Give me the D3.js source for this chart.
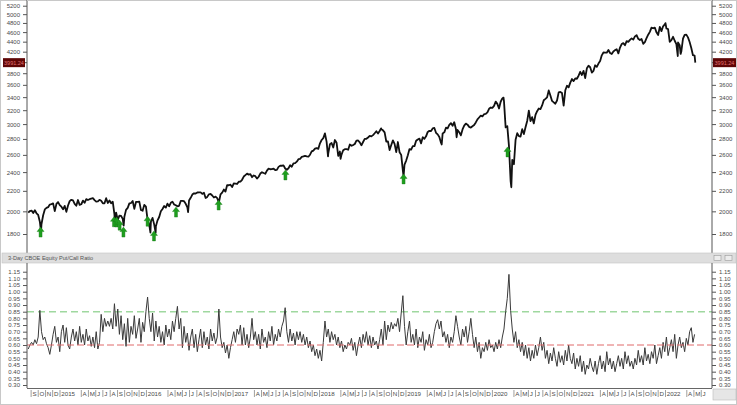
<!DOCTYPE html>
<html><head><meta charset="utf-8">
<script src="https://cdn.jsdelivr.net/npm/d3@7"></script>
<style>body{margin:0;background:#fff}svg{display:block;font-family:"Liberation Sans",Arial,sans-serif}</style>
</head><body><svg id="c" width="737" height="405"></svg>
<script>
// ---------- DATA ----------
const priceStart = "2014-08-22"; // weekly closes, one per week
const priceWeekly = [
1988,2003,2007,1985,2010,1982,1967,1906,1886,1964,2018,2032,2039,2064,2068,2075,2002,2070,2088,
2058,2044,2019,2051,1995,2055,2097,2110,2104,2071,2053,2108,2061,2067,2102,2081,2117,2108,2116,2122,2126,2107,2092,2094,2110,2101,2076,2076,2126,2079,2104,2077,2091,1971,1989,1921,1961,1958,1931,1951,2014,2033,2075,2079,2099,2023,2089,2090,2092,2012,2005,2061,
2044,1922,1880,1907,1940,1880,1865,1918,1948,2000,2022,2050,2035,2073,2048,2081,2092,2065,2057,2047,2052,2099,2099,2096,2071,2037,2103,2130,2162,2175,2173,2183,2184,2184,2169,2180,2128,2139,2165,2168,2153,2133,2141,2126,2085,2164,2182,2213,2192,2260,2258,2264,2239,
2277,2275,2271,2295,2297,2316,2351,2367,2383,2372,2378,2344,2363,2355,2329,2349,2384,2399,2390,2382,2416,2439,2432,2433,2438,2423,2425,2459,2472,2472,2476,2441,2426,2443,2477,2461,2500,2502,2519,2549,2553,2575,2581,2588,2582,2578,2602,2642,2652,2676,2684,2674,
2743,2786,2810,2873,2762,2620,2732,2747,2691,2786,2752,2588,2641,2604,2656,2670,2670,2663,2728,2713,2721,2735,2779,2780,2755,2718,2760,2801,2802,2819,2840,2833,2850,2875,2902,2872,2905,2930,2914,2886,2767,2768,2659,2723,2781,2736,2633,2760,2633,2600,2417,2486,
2532,2596,2671,2665,2707,2708,2776,2793,2804,2743,2822,2801,2834,2893,2907,2905,2940,2946,2881,2860,2826,2752,2873,2887,2950,2942,2990,3014,2977,3026,2932,2919,2889,2847,2926,2979,3007,2992,2962,2952,2970,2986,3023,3067,3093,3120,3110,3141,3146,3169,3221,3240,
3235,3265,3330,3295,3226,3328,3380,3338,2954,2972,2711,2305,2541,2489,2790,2875,2837,2831,2930,2864,2955,3044,3194,3041,3098,3009,3130,3185,3225,3216,3271,3351,3373,3397,3508,3427,3341,3319,3298,3348,3477,3484,3465,3270,3510,3585,3558,3638,3699,3663,3709,3703,
3756,3825,3768,3841,3714,3887,3934,3907,3811,3842,3943,3913,3975,4020,4129,4185,4180,4181,4233,4174,4156,4204,4230,4247,4166,4281,4352,4370,4327,4412,4395,4437,4468,4442,4509,4535,4459,4433,4455,4357,4391,4471,4545,4605,4697,4683,4698,4595,4538,4712,4621,4726,4766,
4677,4663,4398,4432,4501,4419,4349,4385,4329,4204,4463,4543,4546,4488,4392,4272,4132,4123
];
const lastDate = "2022-05-09";
const lastClose = 3991.24;
// intraday extremes
const extremeDates  = ["2014-10-15","2015-08-24","2015-09-29","2016-01-20","2016-02-11","2016-06-27","2016-11-04","2018-02-08","2018-04-02","2018-09-20","2018-12-24","2019-06-03","2019-08-05","2020-02-19","2020-03-23","2022-01-03","2022-02-24","2022-03-08"];
const extremeValues = [1821,1867,1872,1812,1810,1992,2084,2581,2553,2941,2351,2729,2822,3393,2237,4797,4115,4157];

const arrowDates  = ["2014-10-13","2015-08-19","2015-08-30","2015-09-12","2015-09-28","2016-01-08","2016-02-04","2016-05-07","2016-11-03","2017-08-12","2018-12-24","2020-03-07"];
const arrowPrices = [1859,1950,1948,1920,1859,1955,1826,2040,2108,2424,2380,2698];

const pcStart = "2014-08-22"; // 3-day CBOE equity put/call ratio, weekly samples
const pcWeekly = [
0.57,0.60,0.62,0.60,0.64,0.61,0.66,0.86,0.70,0.64,0.66,0.61,0.58,0.53,0.60,0.68,0.74,0.62,0.66,
0.55,0.70,0.75,0.62,0.73,0.60,0.57,0.66,0.72,0.63,0.70,0.60,0.74,0.62,0.68,0.60,0.72,0.63,0.67,0.59,
0.66,0.58,0.70,0.57,0.62,0.83,0.70,0.80,0.74,0.78,0.74,0.80,0.72,0.91,0.74,0.87,0.68,0.82,0.64,0.76,
0.59,0.80,0.62,0.74,0.68,0.82,0.65,0.72,0.80,0.62,0.77,0.70,0.85,0.96,0.80,0.70,0.84,0.63,0.78,0.66,
0.74,0.62,0.70,0.60,0.75,0.66,0.72,0.64,0.78,0.70,0.80,0.89,0.72,0.80,0.58,0.74,0.62,0.69,0.56,0.66,
0.72,0.58,0.68,0.55,0.64,0.72,0.58,0.70,0.60,0.66,0.57,0.72,0.63,0.69,0.61,0.66,0.87,0.66,0.58,0.62,
0.54,0.60,0.50,0.58,0.64,0.70,0.62,0.72,0.68,0.75,0.60,0.73,0.60,0.68,0.58,0.66,0.80,0.64,0.70,0.60,
0.68,0.57,0.72,0.62,0.66,0.58,0.70,0.63,0.74,0.60,0.68,0.63,0.72,0.66,0.74,0.78,0.88,0.70,0.62,0.72,
0.63,0.69,0.60,0.70,0.64,0.70,0.62,0.68,0.60,0.66,0.58,0.63,0.55,0.60,0.52,0.57,0.50,0.56,0.48,0.62,
0.78,0.66,0.72,0.62,0.70,0.64,0.68,0.60,0.66,0.58,0.63,0.55,0.60,0.57,0.62,0.60,0.65,0.56,0.62,0.52,
0.60,0.66,0.58,0.68,0.62,0.70,0.60,0.67,0.58,0.66,0.60,0.63,0.57,0.64,0.72,0.60,0.78,0.64,0.75,0.70,
0.77,0.72,0.76,0.74,0.80,0.70,0.84,0.97,0.74,0.60,0.70,0.78,0.62,0.68,0.60,0.72,0.58,0.66,0.62,0.70,
0.56,0.64,0.60,0.68,0.58,0.62,0.70,0.76,0.79,0.72,0.78,0.66,0.70,0.62,0.68,0.58,0.66,0.62,0.70,0.82,
0.74,0.66,0.60,0.72,0.66,0.74,0.62,0.70,0.80,0.68,0.58,0.66,0.55,0.62,0.50,0.58,0.55,0.62,0.56,0.64,
0.58,0.60,0.55,0.62,0.57,0.64,0.58,0.66,0.72,0.85,0.95,1.13,0.86,0.72,0.62,0.70,0.58,0.64,0.55,0.62,
0.52,0.60,0.50,0.58,0.48,0.56,0.50,0.60,0.52,0.58,0.66,0.56,0.62,0.50,0.56,0.46,0.54,0.48,0.58,0.50,
0.44,0.55,0.47,0.52,0.45,0.56,0.48,0.60,0.50,0.46,0.54,0.42,0.50,0.44,0.52,0.40,0.48,0.38,0.45,0.42,
0.50,0.44,0.40,0.48,0.38,0.46,0.52,0.42,0.48,0.40,0.55,0.45,0.50,0.42,0.48,0.40,0.46,0.52,0.44,0.50,
0.42,0.55,0.46,0.52,0.44,0.48,0.42,0.50,0.45,0.56,0.47,0.52,0.45,0.58,0.48,0.53,0.46,0.55,0.50,0.60,
0.46,0.52,0.58,0.50,0.62,0.55,0.66,0.52,0.58,0.64,0.55,0.68,0.50,0.60,0.66,0.58,0.62,0.55,0.65,0.60,
0.70,0.73,0.62,0.68
];
const priceTicks = [1800,2000,2200,2400,2600,2800,3000,3200,3400,3600,3800,4000,4200,4400,4600,4800,5000,5200];
const pcTicks = [0.30,0.35,0.40,0.45,0.50,0.55,0.60,0.65,0.70,0.75,0.80,0.85,0.90,0.95,1.00,1.05,1.10,1.15];
const upperLevel = 0.85, lowerLevel = 0.60;
const panelTitle = "3-Day CBOE Equity Put/Call Ratio";
const monthLetters = ["J","F","M","A","M","J","J","A","S","O","N","D"];

// ---------- LAYOUT ----------
const svg = d3.select("#c");
const L = 27, R = 712;
const top1 = 0, bot1 = 253, top2 = 263, bot2 = 388;
const parse = d3.utcParse("%Y-%m-%d");
const dayMs = 86400000;

const x = d3.scaleUtc().domain([parse("2015-01-01"), parse("2022-01-01")]).range([59.5, 665]);
const yP = d3.scaleLog().domain([1648, 5340]).range([bot1, top1]);
const yC = d3.scaleLinear().domain([0.2775, 1.2153]).range([bot2, top2]);

const fontSize = 6;
const labelColor = "#4a4a4a";

// frame
svg.append("rect").attr("x",0.5).attr("y",0.5).attr("width",736).attr("height",404).attr("fill","#fff").attr("stroke","#c8c8c8");

// price series
const p0 = parse(priceStart);
let pricePts = priceWeekly.map((v,i)=>({d:new Date(+p0 + i*7*dayMs), v}));
pricePts.push({d:parse(lastDate), v:lastClose});
extremeDates.forEach((s,i)=>pricePts.push({d:parse(s), v:extremeValues[i]}));
pricePts.sort((a,b)=>a.d-b.d);

const gP = svg.append("g");
gP.append("clipPath").attr("id","cp1").append("rect").attr("x",L).attr("y",top1).attr("width",R-L).attr("height",bot1-top1);
gP.append("path").datum(pricePts)
  .attr("clip-path","url(#cp1)")
  .attr("fill","none").attr("stroke","#111").attr("stroke-width",1.8).attr("stroke-linejoin","round")
  .attr("d", d3.line().x(d=>x(d.d)).y(d=>yP(d.v)));

// arrows
arrowDates.forEach((s,i)=>{
  const ax = x(parse(s)), ay = yP(arrowPrices[i]);
  const p = `M${ax},${ay} L${ax+3.5},${ay+4.5} L${ax+1.5},${ay+4.5} L${ax+1.5},${ay+10} L${ax-1.5},${ay+10} L${ax-1.5},${ay+4.5} L${ax-3.5},${ay+4.5} Z`;
  gP.append("path").attr("d",p).attr("fill","#1e9e1e").attr("stroke","#157815").attr("stroke-width",0.4);
});

// price axes (the 4000 label sits under the last-value box, so it is not printed)
const lastBoxTick = 4000;
const pFmt = d => d === lastBoxTick ? "" : d3.format("d")(d);
const axL = d3.axisLeft(yP).tickValues(priceTicks).tickSize(4).tickFormat(pFmt);
const axR = d3.axisRight(yP).tickValues(priceTicks).tickSize(4).tickFormat(pFmt);
function styleAxis(g){
  g.select(".domain").attr("stroke","#555");
  g.selectAll(".tick line").attr("stroke","#555");
  g.selectAll(".tick text").attr("fill",labelColor).attr("font-size",fontSize).attr("font-family","Liberation Sans, Arial, sans-serif");
}
svg.append("g").attr("transform",`translate(${L},0)`).call(axL).call(styleAxis).call(g=>g.select(".domain").attr("d",`M0,${top1}V${bot1}`));
svg.append("g").attr("transform",`translate(${R},0)`).call(axR).call(styleAxis).call(g=>g.select(".domain").attr("d",`M0,${top1}V${bot1}`));
svg.selectAll(".tick text").filter(function(){return this.textContent==="";}).remove();
svg.append("line").attr("x1",L).attr("x2",R).attr("y1",0.5).attr("y2",0.5).attr("stroke","#c8c8c8");

// last value boxes
[[3,L-2],[R+1,736]].forEach(([x0,x1])=>{
  const yy = yP(lastClose);
  svg.append("rect").attr("x",x0).attr("y",yy-4.5).attr("width",x1-x0).attr("height",9).attr("fill","#5e0606");
  svg.append("text").attr("x",(x0+x1)/2).attr("y",yy+2).attr("text-anchor","middle").attr("font-size",5.5).attr("fill","#e07070").text(lastClose.toFixed(2));
});

// panel header
svg.append("rect").attr("x",2).attr("y",bot1).attr("width",734).attr("height",top2-bot1).attr("fill","#dedede").attr("stroke","#c2c2c2").attr("stroke-width",0.6);
svg.append("text").attr("x",8).attr("y",bot1+7).attr("font-size",5.6).attr("fill","#555").text(panelTitle);
[714,725].forEach(ix=>{
  svg.append("rect").attr("x",ix).attr("y",bot1+2.5).attr("width",7).attr("height",5).attr("fill","#ececec").attr("stroke","#999").attr("stroke-width",0.6);
});

// put/call panel
const gC = svg.append("g");
gC.append("clipPath").attr("id","cp2").append("rect").attr("x",L).attr("y",top2).attr("width",R-L).attr("height",bot2-top2);
gC.append("line").attr("x1",L).attr("x2",R).attr("y1",yC(upperLevel)).attr("y2",yC(upperLevel))
  .attr("stroke","#9fd89f").attr("stroke-width",1.4).attr("stroke-dasharray","7,4");
const c0 = parse(pcStart);
const pcPts = pcWeekly.map((v,i)=>({d:new Date(+c0 + i*7*dayMs), v}));
gC.append("path").datum(pcPts).attr("clip-path","url(#cp2)")
  .attr("fill","none").attr("stroke","#3a3a3a").attr("stroke-width",1).attr("stroke-linejoin","round")
  .attr("d", d3.line().x(d=>x(d.d)).y(d=>yC(d.v)));
gC.append("line").attr("x1",L).attr("x2",R).attr("y1",yC(lowerLevel)).attr("y2",yC(lowerLevel))
  .attr("stroke","#e06a6a").attr("stroke-width",1).attr("stroke-dasharray","7,3");

const cL = d3.axisLeft(yC).tickValues(pcTicks).tickSize(4).tickFormat(d3.format(".2f"));
const cR = d3.axisRight(yC).tickValues(pcTicks).tickSize(4).tickFormat(d3.format(".2f"));
svg.append("g").attr("transform",`translate(${L},0)`).call(cL).call(styleAxis).call(g=>g.select(".domain").attr("d",`M0,${top2}V${bot2}`));
svg.append("g").attr("transform",`translate(${R},0)`).call(cR).call(styleAxis).call(g=>g.select(".domain").attr("d",`M0,${top2}V${bot2}`));

// time axis
svg.append("line").attr("x1",L).attr("x2",R).attr("y1",bot2+0.5).attr("y2",bot2+0.5).attr("stroke","#666");
const months = d3.utcMonth.range(parse("2014-09-01"), parse("2022-07-01"));
const gx = svg.append("g");
months.forEach(m=>{
  const mo = m.getUTCMonth();
  if (mo===1 || mo===2) return;
  const mx = x(m);
  if (mx < L || mx > R-4) return;
  gx.append("line").attr("x1",mx+0.5).attr("x2",mx+0.5).attr("y1",bot2+2).attr("y2",bot2+9).attr("stroke","#777").attr("stroke-width",0.7);
  gx.append("text").attr("x",mx+1.8).attr("y",bot2+8).attr("font-size",6.2).attr("fill",labelColor)
    .text(mo===0 ? m.getUTCFullYear() : monthLetters[mo]);
});
svg.append("rect").attr("x",R+1).attr("y",bot2+1).attr("width",23).attr("height",11).attr("fill","#e6e6e6").attr("stroke","#bbb").attr("stroke-width",0.6);
</script></body></html>
